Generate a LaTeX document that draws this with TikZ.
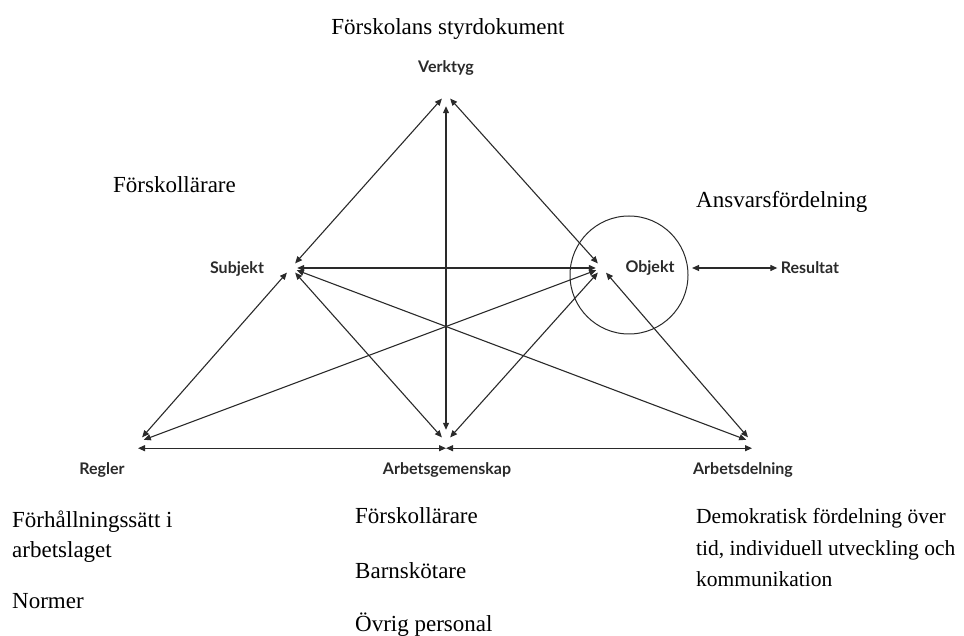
\documentclass[tikz,border=0pt]{standalone}
\usepackage{fontspec}
\setmainfont{Liberation Serif}
\newfontfamily\gillfont{Lato}
\usetikzlibrary{arrows.meta}
\definecolor{ink}{HTML}{2A2A2A}

\begin{document}
\begin{tikzpicture}[
  x=1pt, y=-1pt,
  vx/.style={circle, inner sep=0pt, minimum size=12pt},
  lbl/.style={font=\gillfont\bfseries\fontsize{16}{18}\selectfont, text=ink},
  txt/.style={font=\fontsize{23}{28}\selectfont, anchor=base west, inner sep=0pt},
  smalltxt/.style={txt, font=\fontsize{21.5}{26}\selectfont},
  arr/.style={{Triangle[length=7pt,width=6pt]}-{Triangle[length=7pt,width=6pt]},
              line width=1.1pt, draw=ink},
]
  \useasboundingbox (0,0) rectangle (964,636);

  % vertices of the activity triangle
  \node[vx] (ver) at (446,94) {};
  \node[vx] (sub) at (291,268) {};
  \node[vx] (obj) at (602,268) {};
  \node[vx] (reg) at (138,442) {};
  \node[vx] (gem) at (446,442) {};
  \node[vx] (del) at (752,442) {};

  % labels at the vertices
  \node[lbl] (verlbl) at (446,68) {Verktyg};
  \node[lbl] (sublbl) at (237,269) {Subjekt};
  \node[lbl] (objlbl) at (650,268) {Objekt};
  \node[lbl] (reslbl) at (810,268) {Resultat};
  \node[lbl] (reglbl) at (102,470) {Regler};
  \node[lbl] (gemlbl) at (447,470) {Arbetsgemenskap};
  \node[lbl] (dellbl) at (743,470) {Arbetsdelning};

  % ring round the object
  \node[draw=ink, line width=1pt, circle, inner sep=0pt, minimum size=118pt] (ring) at (629,275) {};

  % connectors
  \draw[arr] (ver) -- (sub);
  \draw[arr] (ver) -- (obj);
  \draw[arr, shorten <=6pt, shorten >=6pt] (ver) -- (gem);
  \draw[arr] (sub) -- (obj);
  \draw[arr] (sub) -- (reg);
  \draw[arr] (sub) -- (gem);
  \draw[arr] (sub) -- (del);
  \draw[arr] (obj) -- (reg);
  \draw[arr] (obj) -- (gem);
  \draw[arr] (obj) -- (del);
  \draw[arr] (reg.south) -- (gem.south);
  \draw[arr] (gem.south) -- (del.south);
  \draw[arr, shorten <=14pt] (objlbl.east) -- (reslbl.west);

  % notes in the picture
  \node[txt, anchor=base] (styr) at (448,35) {Förskolans styrdokument};
  \node[txt] (lar) at (113,193) {Förskollärare};
  \node[txt] (ansv) at (696,208) {Ansvarsfördelning};
  \node[txt] (norm1) at (12,527) {Förhållningssätt i};
  \node[txt] (norm2) at (12,557) {arbetslaget};
  \node[txt] (norm3) at (12,608) {Normer};
  \node[txt] (pers1) at (355,523) {Förskollärare};
  \node[txt] (pers2) at (355,578) {Barnskötare};
  \node[txt] (pers3) at (355,631) {Övrig personal};
  \node[smalltxt] (demo1) at (696,523) {Demokratisk fördelning över};
  \node[smalltxt] (demo2) at (696,555) {tid, individuell utveckling och};
  \node[smalltxt] (demo3) at (696,586) {kommunikation};
\end{tikzpicture}
\end{document}
